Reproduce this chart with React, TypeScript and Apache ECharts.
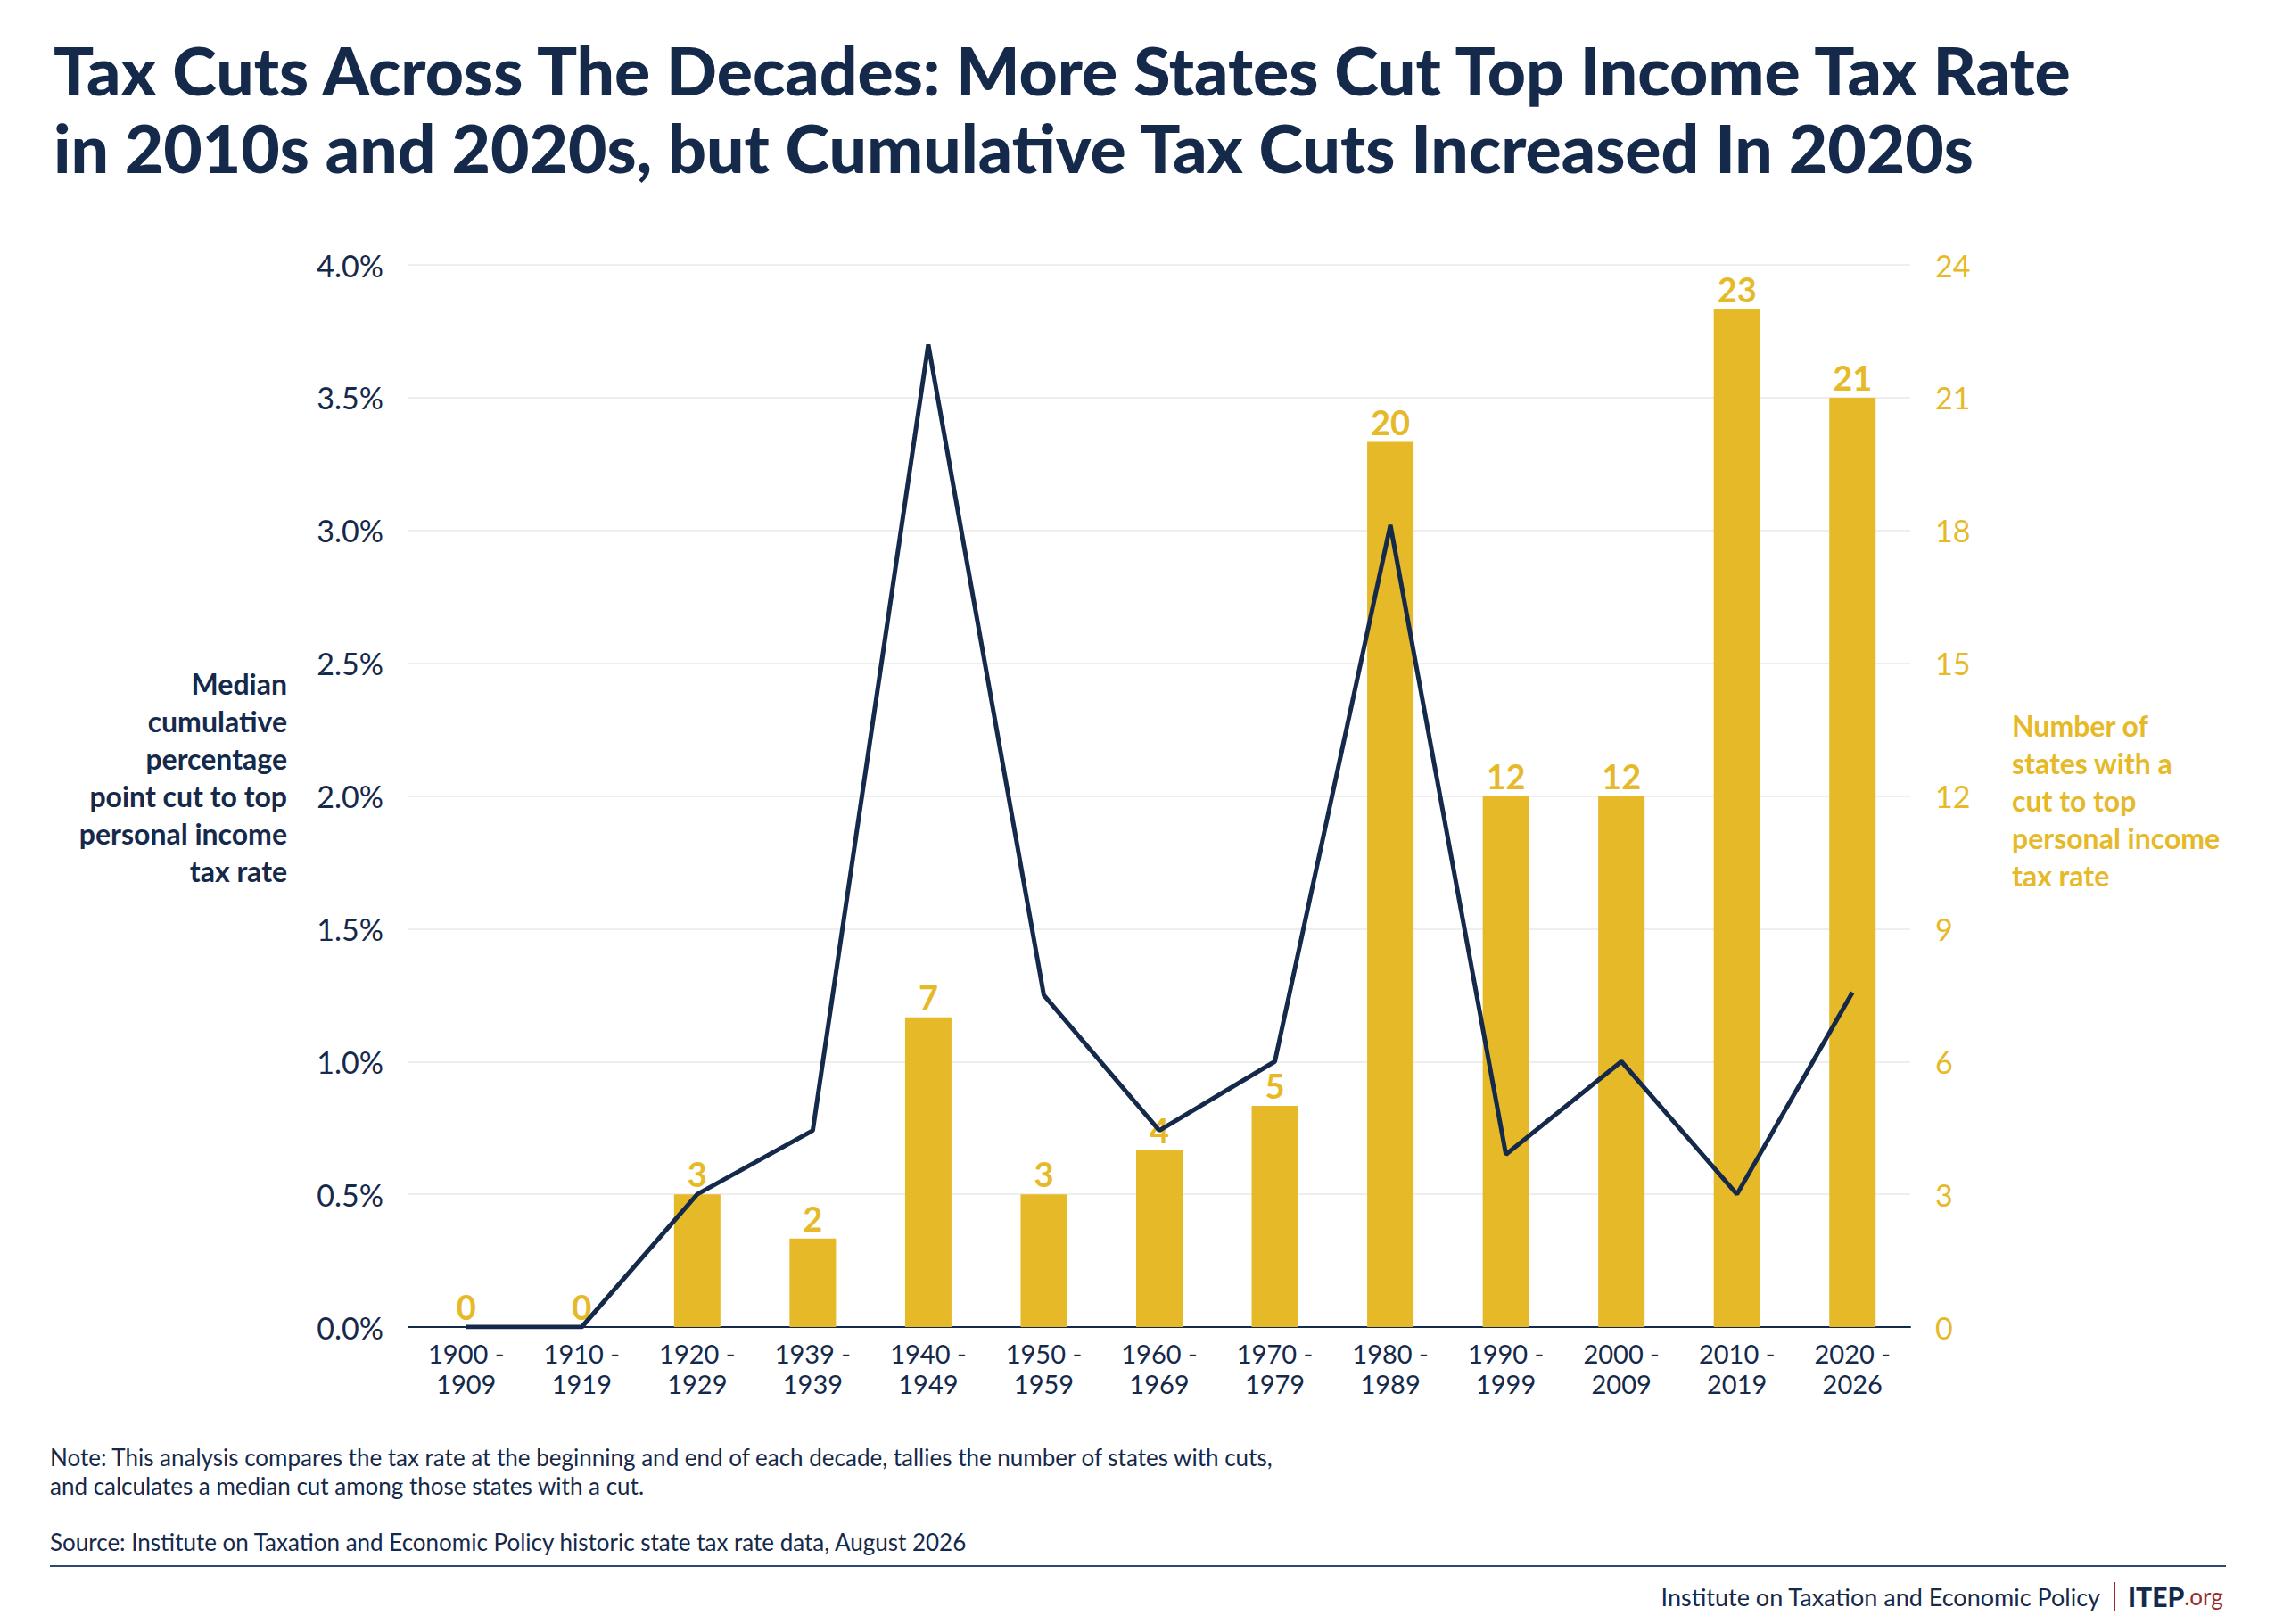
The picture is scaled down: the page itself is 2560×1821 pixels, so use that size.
import React, { useEffect, useRef } from 'react';
import * as echarts from 'echarts';

const decades = ['1900 -\n1909', '1910 -\n1919', '1920 -\n1929', '1939 -\n1939', '1940 -\n1949', '1950 -\n1959', '1960 -\n1969', '1970 -\n1979', '1980 -\n1989', '1990 -\n1999', '2000 -\n2009', '2010 -\n2019', '2020 -\n2026'];
const statesWithCut = [0, 0, 3, 2, 7, 3, 4, 5, 20, 12, 12, 23, 21];
const medianCut = [0, 0, 0.5, 0.74, 3.7, 1.25, 0.74, 1.0, 3.02, 0.65, 1.0, 0.5, 1.26];

const NAVY = '#15294b';
const GOLD = '#e6b929';
const FONT = 'Lato, "Noto Sans", sans-serif';

const App: React.FC = () => {
  const chartRef = useRef<HTMLDivElement>(null);

  useEffect(() => {
    if (!chartRef.current) return;
    const chart = echarts.init(chartRef.current, undefined, { renderer: 'svg' });
    chart.setOption({
      animation: false,
      textStyle: { fontFamily: FONT },
      grid: { left: 450, right: 410, top: 289, bottom: 325 },
      xAxis: {
        type: 'category',
        data: decades,
        axisLine: { lineStyle: { color: NAVY, width: 2 } },
        axisTick: { show: false },
        axisLabel: { color: NAVY, fontSize: 29, lineHeight: 34, margin: 12 },
      },
      yAxis: [
        {
          type: 'value', min: 0, max: 4, interval: 0.5,
          axisLabel: { color: NAVY, fontSize: 34, margin: 28, formatter: (v: number) => v.toFixed(1) + '%' },
          splitLine: { lineStyle: { color: '#eeeeee', width: 2 } },
          axisLine: { show: false }, axisTick: { show: false },
        },
        {
          type: 'value', min: 0, max: 24, interval: 3,
          axisLabel: { color: GOLD, fontSize: 34, margin: 28 },
          splitLine: { show: false },
          axisLine: { show: false }, axisTick: { show: false },
        },
      ],
      series: [
        {
          type: 'bar', yAxisIndex: 1, data: statesWithCut, barWidth: 52,
          itemStyle: { color: GOLD },
          label: { show: true, position: 'top', color: GOLD, fontSize: 38, fontWeight: 'bold', distance: 4 },
        },
        {
          type: 'line', yAxisIndex: 0, data: medianCut, symbol: 'none', z: 3,
          lineStyle: { color: NAVY, width: 5 },
        },
      ],
      graphic: [
        { type: 'text', left: 52, top: 26, style: { text: 'Tax Cuts Across The Decades: More States Cut Top Income Tax Rate\nin 2010s and 2020s, but Cumulative Tax Cuts Increased In 2020s', fill: NAVY, font: `900 75px ${FONT}`, lineHeight: 87 } },
        { type: 'text', x: 314, y: 737, style: { text: 'Median\ncumulative\npercentage\npoint cut to top\npersonal income\ntax rate', fill: NAVY, font: `bold 32px ${FONT}`, lineHeight: 42, align: 'right' } },
        { type: 'text', x: 2248, y: 784, style: { text: 'Number of\nstates with a\ncut to top\npersonal income\ntax rate', fill: GOLD, font: `bold 32px ${FONT}`, lineHeight: 42, align: 'left' } },
        { type: 'text', x: 48, y: 1610, style: { text: 'Note: This analysis compares the tax rate at the beginning and end of each decade, tallies the number of states with cuts,\nand calculates a median cut among those states with a cut.', fill: NAVY, font: `26px ${FONT}`, lineHeight: 32 } },
        { type: 'text', x: 48, y: 1708, style: { text: 'Source: Institute on Taxation and Economic Policy historic state tax rate data, August 2026', fill: NAVY, font: `26px ${FONT}` } },
        { type: 'line', shape: { x1: 48, y1: 1748, x2: 2488, y2: 1748 }, style: { stroke: '#2f4a72', lineWidth: 2 } },
        { type: 'text', x: 2347, y: 1782, style: { text: 'Institute on Taxation and Economic Policy', fill: NAVY, font: `27px ${FONT}`, align: 'right', verticalAlign: 'middle' } },
        { type: 'line', shape: { x1: 2363, y1: 1766, x2: 2363, y2: 1798 }, style: { stroke: '#9b2a2a', lineWidth: 2 } },
        { type: 'text', x: 2378, y: 1782, style: { rich: { a: { fill: NAVY, font: `900 30px ${FONT}` }, b: { fill: '#9b2a2a', font: `26px ${FONT}` } }, text: '{a|ITEP}{b|.org}', verticalAlign: 'middle' } },
      ],
    });
    return () => chart.dispose();
  }, []);

  return <div ref={chartRef} style={{ width: 2544, height: 1805 }} />;
};

export default App;
